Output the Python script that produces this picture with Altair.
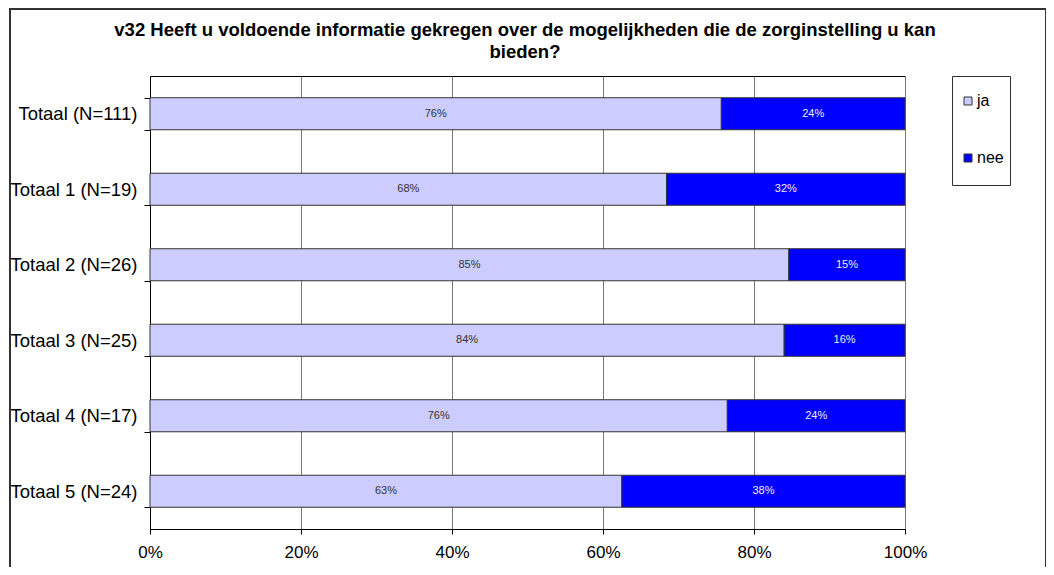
import altair as alt
import pandas as pd

categories = ["Totaal (N=111)", "Totaal 1 (N=19)", "Totaal 2 (N=26)",
              "Totaal 3 (N=25)", "Totaal 4 (N=17)", "Totaal 5 (N=24)"]
ja_counts = [84, 13, 22, 21, 13, 15]
nee_counts = [27, 6, 4, 4, 4, 9]
series = ["ja", "nee"]
series_colors = ["#CCCCFF", "#0000FF"]
x_ticks = [0, 0.2, 0.4, 0.6, 0.8, 1.0]
title_lines = ["v32 Heeft u voldoende informatie gekregen over de mogelijkheden die de zorginstelling u kan",
               "bieden?"]

rows = []
for cat, j, n in zip(categories, ja_counts, nee_counts):
    total = j + n
    start = 0.0
    for s, v in zip(series, [j, n]):
        share = v / total
        rows.append(dict(cat=cat, serie=s, start=start, end=start + share,
                         mid=start + share / 2, share=share))
        start += share
df = pd.DataFrame(rows)

FONT = "Liberation Sans"

base = alt.Chart(df)

y_enc = alt.Y("cat:N", sort=categories,
              scale=alt.Scale(paddingInner=0.576, paddingOuter=0.288),
              axis=alt.Axis(title=None, tickBand="extent", tickSize=6, tickColor="black",
                            domainColor="black", labelFontSize=18.5, labelFont=FONT,
                            labelPadding=7, labelColor="black", labelLimit=300, grid=False))

bars = base.mark_bar(stroke="#333333", strokeWidth=1).encode(
    y=y_enc,
    x=alt.X("start:Q", scale=alt.Scale(domain=[0, 1], nice=False),
            axis=alt.Axis(values=x_ticks, format=".0%", grid=True, gridColor="#777777",
                          domainColor="black", tickColor="black", tickSize=5,
                          labelFontSize=17, labelFont=FONT, labelColor="black",
                          labelPadding=10, labelFlush=False, title=None)),
    x2="end:Q",
    color=alt.Color("serie:N", scale=alt.Scale(domain=series, range=series_colors),
                    legend=alt.Legend(orient="none", legendX=810, legendY=17, title=None,
                                      symbolType="square", symbolSize=64,
                                      symbolStrokeColor="#333333", symbolStrokeWidth=1,
                                      labelFontSize=16, labelFont=FONT, labelColor="black",
                                      rowPadding=41, labelOffset=1, padding=0)),
)

labels = base.mark_text(fontSize=11, font=FONT).encode(
    y=alt.Y("cat:N", sort=categories),
    x=alt.X("mid:Q"),
    text=alt.Text("share:Q", format=".0%"),
    color=alt.condition(alt.datum.serie == "ja", alt.value("#333333"), alt.value("#eeeeee")),
)

one = pd.DataFrame({"k": [0]})
border = alt.Chart(one).mark_rect(filled=False, stroke="#333333", strokeWidth=2).encode(
    x=alt.value(-140), x2=alt.value(896), y=alt.value(-67), y2=alt.value(540))
legend_box = alt.Chart(one).mark_rect(filled=False, stroke="#333333", strokeWidth=1).encode(
    x=alt.value(802.5), x2=alt.value(860.5), y=alt.value(0.5), y2=alt.value(109.5))

title1 = alt.Chart(pd.DataFrame({"t": [title_lines[0]]})).mark_text(
    font=FONT, fontSize=18.5, fontWeight="bold", color="black", align="center",
    baseline="middle").encode(text="t:N", x=alt.value(375), y=alt.value(-46))
title2 = alt.Chart(pd.DataFrame({"t": [title_lines[1]]})).mark_text(
    font=FONT, fontSize=18.5, fontWeight="bold", color="black", align="center",
    baseline="middle").encode(text="t:N", x=alt.value(375), y=alt.value(-24))

chart = alt.layer(border, legend_box, title1, title2, bars, labels).properties(
    width=755, height=453,
    autosize=alt.AutoSizeParams(type="none"),
    padding={"left": 142, "top": 68, "right": 141, "bottom": 38},
    background="white",
).configure_view(stroke="black", strokeWidth=1)

chart.save("out.html", embed_options={"renderer": "svg", "actions": False})
